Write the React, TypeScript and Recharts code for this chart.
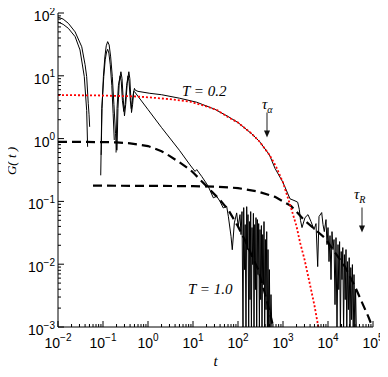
import { LineChart, Line, XAxis, YAxis, ReferenceDot } from 'recharts';

// stretched-exponential fit, T = 0.2 (red dotted)
const fitT = [0.01, 0.1, 0.5, 1, 3, 8.6, 20, 34, 60, 100, 200, 300, 500, 700, 1000, 1500, 2000, 2400, 3000, 3650, 5000, 6100, 7000];
const fitG = [4.95, 4.85, 4.7, 4.55, 4.25, 3.87, 3.25, 2.85, 2.2, 1.8, 1.2, 0.9, 0.55, 0.36, 0.2, 0.08, 0.04, 0.022, 0.012, 0.0063, 0.0022, 0.001, 0.0006];

// Rouse-like model, T = 1.0 (dashed)
const rouse1T = [0.01, 0.1, 0.2, 0.4, 1, 2, 3, 5, 8.6, 11, 20, 40, 61, 100, 143, 200, 283, 433, 610];
const rouse1G = [0.89, 0.88, 0.87, 0.84, 0.76, 0.63, 0.53, 0.42, 0.32, 0.27, 0.175, 0.105, 0.073, 0.04, 0.024, 0.014, 0.0081, 0.0027, 0.001];

// Rouse-like model, T = 0.2 (dashed)
const rouse02T = [0.06, 1, 10, 30, 100, 265, 664, 1500, 3000, 8580, 23900, 39800, 78700, 100000];
const rouse02G = [0.178, 0.177, 0.175, 0.172, 0.163, 0.145, 0.118, 0.085, 0.05, 0.026, 0.0091, 0.0044, 0.00146, 0.00095];

// simulation, T = 0.2 (null = sign change, not drawn on the log axis)
const md02T = [
  0.01, 0.013, 0.017, 0.024, 0.0337, 0.04, 0.0434, 0.047, 0.049, 0.0505, 0.06,
  0.091, 0.095, 0.102, 0.11, 0.118, 0.127, 0.137, 0.148, 0.161, 0.175, 0.19, 0.2, 0.202,
  0.205, 0.215, 0.23, 0.25, 0.265, 0.28, 0.3, 0.32, 0.345, 0.375, 0.395, 0.415, 0.43, 0.455, 0.48, 0.5, 0.52,
  0.6, 1.1, 2, 5, 12, 30, 60, 100, 200, 300, 500, 664, 1000, 1430, 1850, 2120, 2300, 2450,
  2644, 3083, 3594, 4190, 4885, 5412, 5900, 6310, 7244, 7743, 8276,
  9028, 9502, 10000, 10525, 11078, 11659, 12271, 12915, 13594, 14307, 15058, 15849, 16681, 17378,
  18102, 18860, 19650, 20469, 21325, 22219, 23141, 24110, 25119, 26166, 27262, 28400, 29587, 30824,
  32114, 33455, 34853, 36308, 37833, 39414, 41055, 42772,
];
const md02G = [
  86, 80, 68.5, 50, 29, 15, 9.7, 3.65, 2.4, 1.54, null,
  0.55, 3, 9.7, 20, 30, 35, 31, 20, 9.7, 3.5, 1.2, 0.66, null,
  0.65, 3, 8, 11.6, 9, 4.5, 2.3, 3.5, 7.5, 11.6, 9, 4.5, 2.6, 3.5, 5.5, 6.3, 5.9,
  5.65, 5.26, 5.0, 4.4, 3.8, 2.95, 2.25, 1.8, 1.2, 0.9, 0.55, 0.336, 0.2, 0.11, 0.102, 0.097, 0.075, 0.05,
  0.0383, 0.0552, 0.0616, 0.0477, 0.0356, 0.0443, 0.00916, 0.0573, 0.0664, 0.0427, 0.033,
  0.0513, 0.0205, 0.0383, 0.011, 0.0285, 0.00569, 0.033, 0.0171, 0.0247, 0.00227, 0.0265, 0.0008, 0.0205, 0.00394,
  0.0229, 0.0008, 0.0159, 0.00569, 0.0184, 0.0008, 0.0142, 0.00273, 0.0171, 0.0008, 0.011, 0.00189, 0.0127, 0.0008,
  0.00883, 0.00131, 0.00986, 0.0008, 0.00683, 0.0008, 0.00394, 0.0008,
];

// simulation, T = 1.0
const md1T = [
  0.01, 0.013, 0.017, 0.024, 0.0308, 0.0384, 0.0434, 0.0455, 0.06,
  0.089, 0.094, 0.104, 0.112, 0.12, 0.127, 0.135, 0.145, 0.157, 0.168, 0.178, 0.185,
  0.195, 0.205, 0.22, 0.24, 0.255, 0.27, 0.29, 0.31, 0.335, 0.36, 0.38, 0.405, 0.425, 0.45, 0.48, 0.5,
  1, 2, 5, 8.6, 11.1, 12.1, 15.6, 20.2, 21.8, 28.3, 33.6, 39.8, 47, 56, 61, 70, 74.6, 83, 93.5, 101,
  110.8, 116.6, 122.7, 129.2, 133.9, 139.4, 144.5, 150.6, 156.1, 161.8, 166.8, 172.9, 179.2, 184.8, 191.5, 198.6,
  204.8, 212.3, 219.9, 226.8, 235, 243.6, 251.2, 260.4, 269.9, 278.3, 288.4, 299, 308.3, 319.5, 331.1, 341.5,
  354, 366.9, 378.4, 392.2, 406.5, 419.2, 434.5, 450.3, 464.2, 481.1, 498.7, 514.1, 541.1, 569.6,
];
const md1G = [
  72, 66, 57, 42, 25.8, 9.7, 2.8, 0.74, null,
  0.26, 3, 9.7, 18, 24, 26.4, 23, 15, 7, 2.5, 0.95, null,
  0.6, 3, 7, 10, 8, 4, 2.7, 3.5, 7, 10, 8, 4, 3, 4, 5.6, 5.6,
  2.9, 1.5, 0.65, 0.38, 0.3, 0.321, 0.25, 0.19, 0.174, 0.114, 0.121, 0.1, 0.0787, 0.0836, 0.058, 0.0278, 0.017, 0.0455, 0.0656, 0.0402,
  0.0616, 0.0296, 0.0688, 0.0008, 0.0796, 0.0082, 0.0427, 0.0008, 0.0825, 0.0171, 0.0616, 0.0008, 0.0477, 0.00273, 0.0688, 0.0008,
  0.0383, 0.00986, 0.0645, 0.0008, 0.0427, 0.00394, 0.0552, 0.0008, 0.0513, 0.00683, 0.0443, 0.0008, 0.0356, 0.00273, 0.0412, 0.0008,
  0.0296, 0.00473, 0.0477, 0.0008, 0.0247, 0.00189, 0.033, 0.0008, 0.0171, 0.0008, 0.0082, 0.0008, 0.00328, 0.0008,
];

const xDecades = [-2, -1, 0, 1, 2, 3, 4, 5];
const yDecades = [-3, -2, -1, 0, 1, 2];
const minorSteps = [1, 2, 3, 4, 5, 6, 7, 8, 9];

const rows = (t: number[], g: (number | null)[]) => t.map((v, i) => ({ t: v, g: g[i] }));

function logTicks(decades: number[]) {
  const last = decades[decades.length - 1];
  return decades.flatMap((d) => (d === last ? [10 ** d] : minorSteps.map((s) => s * 10 ** d)));
}

const xTicks = logTicks(xDecades);
const yTicks = logTicks(yDecades);

const isMajor = (v: number) => {
  const e = Math.log10(v);
  return Math.abs(e - Math.round(e)) < 1e-6;
};
const expo = (v: number) => {
  const e = Math.round(Math.log10(v));
  return e < 0 ? `\u2212${-e}` : `${e}`;
};

const sans = 'Liberation Sans, Arial, sans-serif';
const serif = 'Liberation Serif, Times New Roman, serif';

function BottomTick({ x, y, payload }: any) {
  const major = isMajor(payload.value);
  return (
    <g>
      <line x1={x} x2={x} y1={y} y2={y - (major ? 6 : 3)} stroke="#000" />
      {major && (
        <text x={x} y={y + 21} textAnchor="middle" fontFamily={sans} fontSize={14} fill="#000">
          10<tspan dy={-7} fontSize={10}>{expo(payload.value)}</tspan>
        </text>
      )}
    </g>
  );
}

function TopTick({ x, y, payload }: any) {
  const major = isMajor(payload.value);
  return <line x1={x} x2={x} y1={y} y2={y + (major ? 6 : 3)} stroke="#000" />;
}

function LeftTick({ x, y, payload }: any) {
  const major = isMajor(payload.value);
  return (
    <g>
      <line x1={x} x2={x + (major ? 6 : 3)} y1={y} y2={y} stroke="#000" />
      {major && (
        <text x={x - 3} y={y + 8} textAnchor="end" fontFamily={sans} fontSize={14} fill="#000">
          10<tspan dy={-6.5} fontSize={10}>{expo(payload.value)}</tspan>
        </text>
      )}
    </g>
  );
}

function RightTick({ x, y, payload }: any) {
  const major = isMajor(payload.value);
  return <line x1={x} x2={x - (major ? 6 : 3)} y1={y} y2={y} stroke="#000" />;
}

const note = (label: string, sub?: string) => (p: any) => (
  <text x={p.cx} y={p.cy} fontFamily={serif} fontStyle="italic" fontSize={15} fill="#000">
    {label}
    {sub && (
      <tspan dy={4} fontSize={10}>
        {sub}
      </tspan>
    )}
  </text>
);

const arrow = (p: any) => (
  <g>
    <line x1={p.cx} x2={p.cx} y1={p.cy - 25} y2={p.cy - 5} stroke="#444" strokeWidth={1.2} />
    <path d={`M${p.cx - 3},${p.cy - 7} L${p.cx + 3},${p.cy - 7} L${p.cx},${p.cy} Z`} fill="#111" />
  </g>
);

const axisCommon = {
  type: 'number' as const,
  scale: 'log' as const,
  allowDataOverflow: true,
  interval: 0 as const,
  tickLine: false,
  tickSize: 0,
  tickMargin: 0,
  axisLine: { stroke: '#000' },
};

export default function App() {
  return (
    <div style={{ margin: -8 }}>
      <LineChart width={388} height={377} margin={{ top: 13, right: 15, bottom: 0, left: 0 }}>
        <XAxis
          {...axisCommon}
          dataKey="t"
          domain={[0.01, 100000]}
          ticks={xTicks}
          height={50}
          tick={(p: any) => <BottomTick {...p} />}
          label={{
            content: (p: any) => (
              <text
                x={p.viewBox.x + p.viewBox.width / 2}
                y={p.viewBox.y + 39}
                textAnchor="middle"
                fontFamily={serif}
                fontStyle="italic"
                fontSize={15}
              >
                t
              </text>
            ),
          }}
        />
        <XAxis
          {...axisCommon}
          xAxisId="top"
          orientation="top"
          dataKey="t"
          domain={[0.01, 100000]}
          ticks={xTicks}
          height={0}
          tick={(p: any) => <TopTick {...p} />}
        />
        <YAxis
          {...axisCommon}
          domain={[0.001, 100]}
          ticks={yTicks}
          width={58}
          tick={(p: any) => <LeftTick {...p} />}
          label={{
            content: () => (
              <text
                x={11}
                y={161}
                transform="rotate(-90 11 161)"
                textAnchor="middle"
                dominantBaseline="central"
                fontFamily={serif}
                fontStyle="italic"
                fontSize={13}
              >
                G( t )
              </text>
            ),
          }}
        />
        <YAxis
          {...axisCommon}
          yAxisId="right"
          orientation="right"
          domain={[0.001, 100]}
          ticks={yTicks}
          width={0}
          tick={(p: any) => <RightTick {...p} />}
        />

        <Line data={rows(md02T, md02G)} dataKey="g" type="linear" stroke="#000" strokeWidth={1} dot={false} activeDot={false} isAnimationActive={false} />
        <Line data={rows(md1T, md1G)} dataKey="g" type="linear" stroke="#000" strokeWidth={1} dot={false} activeDot={false} isAnimationActive={false} />
        <Line data={rows(rouse1T, rouse1G)} dataKey="g" type="linear" stroke="#000" strokeWidth={2.2} strokeDasharray="9 5" dot={false} activeDot={false} isAnimationActive={false} />
        <Line data={rows(rouse02T, rouse02G)} dataKey="g" type="linear" stroke="#000" strokeWidth={2.2} strokeDasharray="9 5" dot={false} activeDot={false} isAnimationActive={false} />
        <Line data={rows(fitT, fitG)} dataKey="g" type="linear" stroke="#ff0000" strokeWidth={1.8} strokeDasharray="2 2" dot={false} activeDot={false} isAnimationActive={false} />

        <ReferenceDot x={5.7} y={4.84} r={1} shape={note('T = 0.2')} />
        <ReferenceDot x={7.74} y={0.0034} r={1} shape={note('T = 1.0')} />
        <ReferenceDot x={341} y={3.0} r={1} shape={note('\u03c4', '\u03b1')} />
        <ReferenceDot x={37800} y={0.111} r={1} shape={note('\u03c4', 'R')} />
        <ReferenceDot x={441} y={1.04} r={1} shape={arrow} />
        <ReferenceDot x={56950} y={0.0319} r={1} shape={arrow} />
      </LineChart>
    </div>
  );
}
